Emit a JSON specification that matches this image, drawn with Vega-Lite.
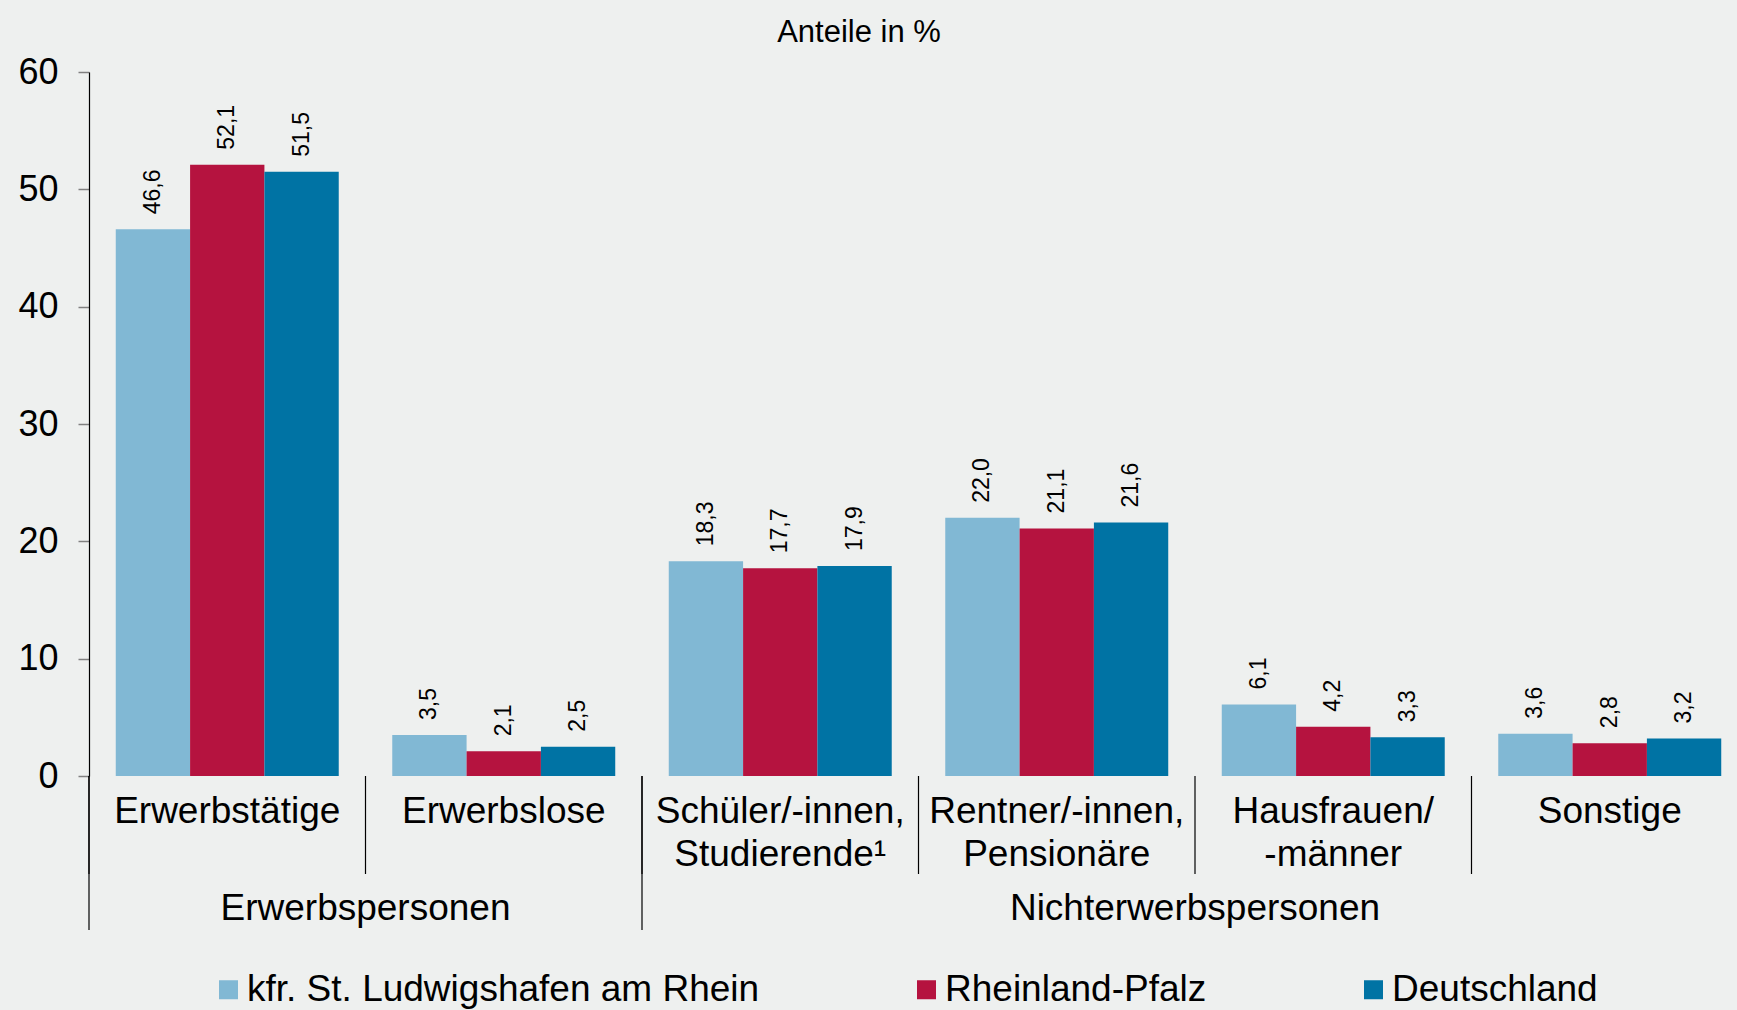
{
  "$schema": "https://vega.github.io/schema/vega-lite/v6.json",
  "width": 1648,
  "height": 704,
  "autosize": {"type": "none"},
  "padding": {"left": 89, "top": 72, "right": 0, "bottom": 234},
  "background": "#EEF0EF",
  "title": {
    "text": "Anteile in %",
    "fontSize": 31,
    "fontWeight": "normal",
    "color": "#000000",
    "anchor": "middle",
    "frame": "group",
    "dx": -54,
    "offset": -19,
    "baseline": "alphabetic"
  },
  "datasets": {
    "bars": [
      {"cat": "Erwerbstätige", "series": "kfr. St. Ludwigshafen am Rhein", "value": 46.6},
      {"cat": "Erwerbstätige", "series": "Rheinland-Pfalz", "value": 52.1},
      {"cat": "Erwerbstätige", "series": "Deutschland", "value": 51.5},
      {"cat": "Erwerbslose", "series": "kfr. St. Ludwigshafen am Rhein", "value": 3.5},
      {"cat": "Erwerbslose", "series": "Rheinland-Pfalz", "value": 2.1},
      {"cat": "Erwerbslose", "series": "Deutschland", "value": 2.5},
      {"cat": "Schüler/-innen,|Studierende¹", "series": "kfr. St. Ludwigshafen am Rhein", "value": 18.3},
      {"cat": "Schüler/-innen,|Studierende¹", "series": "Rheinland-Pfalz", "value": 17.7},
      {"cat": "Schüler/-innen,|Studierende¹", "series": "Deutschland", "value": 17.9},
      {"cat": "Rentner/-innen,|Pensionäre", "series": "kfr. St. Ludwigshafen am Rhein", "value": 22.0},
      {"cat": "Rentner/-innen,|Pensionäre", "series": "Rheinland-Pfalz", "value": 21.1},
      {"cat": "Rentner/-innen,|Pensionäre", "series": "Deutschland", "value": 21.6},
      {"cat": "Hausfrauen/|-männer", "series": "kfr. St. Ludwigshafen am Rhein", "value": 6.1},
      {"cat": "Hausfrauen/|-männer", "series": "Rheinland-Pfalz", "value": 4.2},
      {"cat": "Hausfrauen/|-männer", "series": "Deutschland", "value": 3.3},
      {"cat": "Sonstige", "series": "kfr. St. Ludwigshafen am Rhein", "value": 3.6},
      {"cat": "Sonstige", "series": "Rheinland-Pfalz", "value": 2.8},
      {"cat": "Sonstige", "series": "Deutschland", "value": 3.2}
    ],
    "cats": [
      {"cat": "Erwerbstätige"},
      {"cat": "Erwerbslose"},
      {"cat": "Schüler/-innen,|Studierende¹"},
      {"cat": "Rentner/-innen,|Pensionäre"},
      {"cat": "Hausfrauen/|-männer"},
      {"cat": "Sonstige"}
    ],
    "groups": [
      {"group": "Erwerbspersonen", "start": "Erwerbstätige", "mid": "Erwerbslose"},
      {"group": "Nichterwerbspersonen", "start": "Schüler/-innen,|Studierende¹", "mid": "Hausfrauen/|-männer"}
    ]
  },
  "layer": [
    {
      "data": {"name": "bars"},
      "mark": {"type": "bar", "strokeWidth": 0},
      "encoding": {
        "x": {
          "field": "cat",
          "type": "nominal",
          "scale": {
            "domain": ["Erwerbstätige", "Erwerbslose", "Schüler/-innen,|Studierende¹", "Rentner/-innen,|Pensionäre", "Hausfrauen/|-männer", "Sonstige"],
            "paddingInner": 0,
            "paddingOuter": 0,
            "range": [0, 1659]
          },
          "axis": {
            "title": null,
            "domain": false,
            "ticks": false,
            "tickSize": 0,
            "labelAngle": 0,
            "labelAlign": "center",
            "labelBaseline": "top",
            "labelFontSize": 37,
            "labelColor": "#000000",
            "labelPadding": 17,
            "labelLineHeight": 43,
            "labelLimit": 1000,
            "labelExpr": "split(datum.label, '|')"
          }
        },
        "xOffset": {
          "field": "series",
          "type": "nominal",
          "scale": {
            "domain": ["kfr. St. Ludwigshafen am Rhein", "Rheinland-Pfalz", "Deutschland"],
            "paddingInner": 0,
            "paddingOuter": 0.36
          }
        },
        "y": {
          "field": "value",
          "type": "quantitative",
          "scale": {"domain": [0, 60], "nice": false},
          "axis": {
            "title": null,
            "grid": false,
            "values": [0, 10, 20, 30, 40, 50, 60],
            "labelFontSize": 36,
            "labelColor": "#000000",
            "labelPadding": 20,
            "tickSize": 11,
            "tickColor": "#808080",
            "tickWidth": 1.5,
            "domainColor": "#000000",
            "domainWidth": 1.2
          }
        },
        "color": {
          "field": "series",
          "type": "nominal",
          "scale": {
            "domain": ["kfr. St. Ludwigshafen am Rhein", "Rheinland-Pfalz", "Deutschland"],
            "range": ["#81B8D4", "#B5133F", "#0073A4"]
          },
          "legend": {
            "title": null,
            "orient": "none",
            "legendX": 121,
            "legendY": 899,
            "direction": "horizontal",
            "padding": 0,
            "symbolType": "square",
            "symbolSize": 361,
            "symbolStrokeWidth": 0,
            "symbolOpacity": 1,
            "labelFontSize": 37,
            "labelColor": "#000000",
            "labelLimit": 1000,
            "labelOffset": 0,
            "columnPadding": 148
          }
        }
      }
    },
    {
      "data": {"name": "bars"},
      "mark": {"type": "text", "angle": -90, "align": "left", "baseline": "middle", "dx": 15, "fontSize": 23, "color": "#000000"},
      "encoding": {
        "x": {"field": "cat", "type": "nominal"},
        "xOffset": {"field": "series", "type": "nominal"},
        "y": {"field": "value", "type": "quantitative"},
        "text": {"field": "value", "type": "quantitative", "format": ".1f"}
      }
    },
    {
      "mark": {"type": "rule", "color": "#7F7F7F", "strokeWidth": 2},
      "encoding": {"y": {"datum": 0}}
    },
    {
      "data": {"name": "cats"},
      "mark": {"type": "rule", "color": "#000000", "strokeWidth": 1.2},
      "encoding": {
        "x": {"field": "cat", "type": "nominal", "bandPosition": 0},
        "y": {"datum": 0},
        "y2": {"datum": -8.35}
      }
    },
    {
      "data": {"name": "groups"},
      "mark": {"type": "rule", "color": "#000000", "strokeWidth": 1.2},
      "encoding": {
        "x": {"field": "start", "type": "nominal", "bandPosition": 0},
        "y": {"datum": 0},
        "y2": {"datum": -13.13}
      }
    },
    {
      "data": {"name": "groups"},
      "mark": {"type": "text", "align": "center", "baseline": "alphabetic", "fontSize": 37, "color": "#000000"},
      "encoding": {
        "x": {"field": "mid", "type": "nominal", "bandPosition": 0},
        "y": {"datum": -12.27},
        "text": {"field": "group", "type": "nominal"}
      }
    }
  ],
  "config": {
    "font": "Liberation Sans",
    "view": {"stroke": null},
    "locale": {"number": {"decimal": ",", "thousands": ".", "grouping": [3], "currency": ["", " €"]}}
  }
}
